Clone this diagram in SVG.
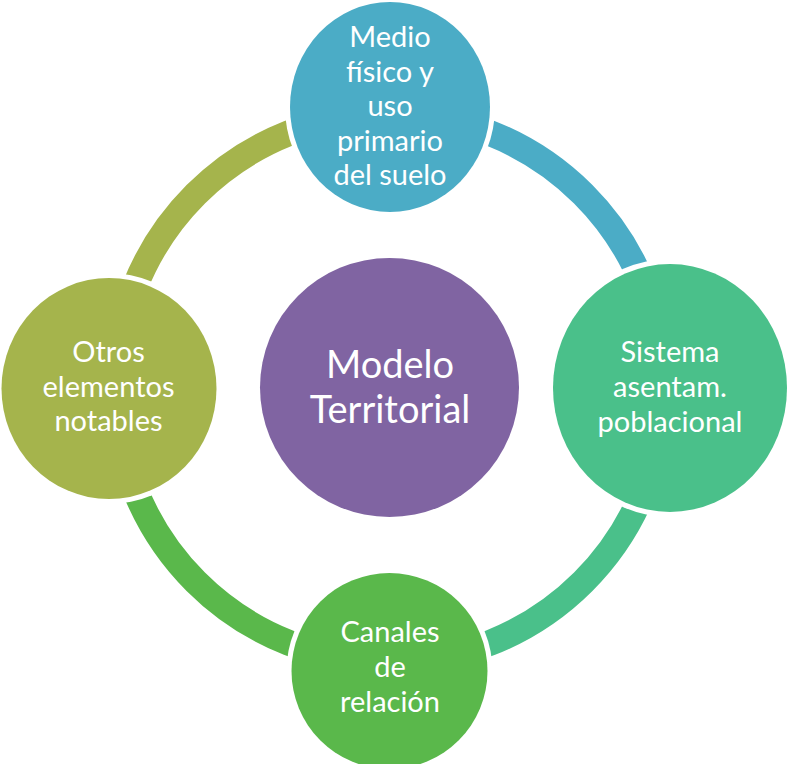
<svg xmlns="http://www.w3.org/2000/svg" width="787" height="764" viewBox="0 0 787 764">
  <style>
    .arc { fill: none; stroke-width: 26; stroke-linecap: butt; }
    .halo { fill: #ffffff; }
    .t { font-family: Lato, "Open Sans", "Liberation Sans", sans-serif; fill: #ffffff; text-anchor: middle; font-size: 29px; }
    .tc { font-size: 38px; }
  </style>
  <rect width="787" height="764" fill="#ffffff"/>
  <g id="connectors">
    <path class="arc" stroke="#4BACC6" d="M 389.5 114 A 274 274 0 0 1 663.5 388"/>
    <path class="arc" stroke="#4AC08A" d="M 663.5 388 A 274 274 0 0 1 389.5 662"/>
    <path class="arc" stroke="#5AB84B" d="M 389.5 662 A 274 274 0 0 1 115.5 388"/>
    <path class="arc" stroke="#A5B44C" d="M 115.5 388 A 274 274 0 0 1 389.5 114"/>
  </g>
  <g id="center">
    <circle cx="389.5" cy="387.5" r="129.5" fill="#8064A2"/>
    <text class="t tc" x="390" y="378">Modelo</text>
    <text class="t tc" x="390" y="423">Territorial</text>
  </g>
  <g id="top">
    <ellipse class="halo" cx="390" cy="107" rx="105" ry="110"/>
    <ellipse cx="390" cy="107" rx="100" ry="105" fill="#4BACC6"/>
    <text class="t" x="390" y="47">Medio</text>
    <text class="t" x="390" y="81.5">físico y</text>
    <text class="t" x="390" y="116">uso</text>
    <text class="t" x="390" y="150.5">primario</text>
    <text class="t" x="390" y="185">del suelo</text>
  </g>
  <g id="right">
    <ellipse class="halo" cx="670" cy="388" rx="122" ry="129"/>
    <ellipse cx="670" cy="388" rx="117" ry="124" fill="#4AC08A"/>
    <text class="t" x="670" y="362">Sistema</text>
    <text class="t" x="670" y="396.7">asentam.</text>
    <text class="t" x="670" y="431.5">poblacional</text>
  </g>
  <g id="bottom">
    <circle class="halo" cx="389.5" cy="671" r="103"/>
    <circle cx="389.5" cy="671" r="98" fill="#5AB84B"/>
    <text class="t" x="390" y="642">Canales</text>
    <text class="t" x="390" y="677">de</text>
    <text class="t" x="390" y="711.5">relación</text>
  </g>
  <g id="left">
    <ellipse class="halo" cx="109" cy="388.5" rx="112.5" ry="115.5"/>
    <ellipse cx="109" cy="388.5" rx="107.5" ry="110.5" fill="#A5B44C"/>
    <text class="t" x="108.5" y="362">Otros</text>
    <text class="t" x="108.5" y="396.7">elementos</text>
    <text class="t" x="108.5" y="430.5">notables</text>
  </g>
</svg>
